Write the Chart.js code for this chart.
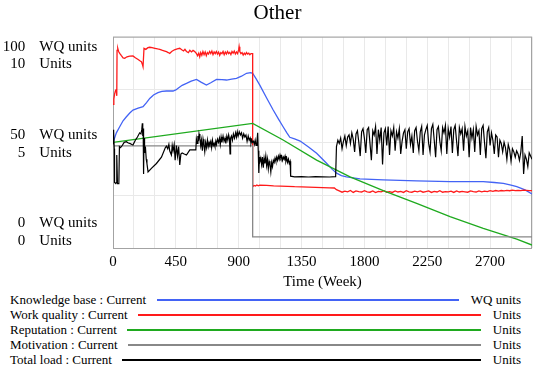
<!DOCTYPE html>
<html lang="en">
<head>
    <meta charset="UTF-8">
    <title>Other</title>
    <script src="https://cdn.jsdelivr.net/npm/chart.js@4.4.1/dist/chart.umd.min.js"></script>
    <style>
        body {
            margin: 0;
            background: #ffffff;
            font-family: "Liberation Serif", "Times New Roman", serif;
        }

        #wrap {
            position: relative;
            width: 546px;
            height: 371px;
        }

        .chart-box {
            position: absolute;
            left: 0;
            top: 0;
            width: 546px;
            height: 292px;
        }

        #legend {
            position: absolute;
            left: 0;
            top: 292px;
            width: 546px;
            font-size: 13px;
            color: #000;
        }

        .legend-row {
            display: flex;
            align-items: center;
            height: 15px;
            padding-left: 10px;
            padding-right: 25px;
            white-space: nowrap;
        }

        .legend-line {
            flex: 1;
            height: 2px;
            margin-left: 10.5px;
            margin-right: 12px;
        }
    </style>
</head>
<body>
    <div id="wrap">
        <div class="chart-box">
            <canvas id="chart"></canvas>
        </div>
        <div id="legend"></div>
    </div>

    <script>
        // time axis (weeks)
        const weekMin = 0;
        const weekMax = 3000;
        const gridStep = 150;
        const labelStep = 450;

        const seriesNames = ['Knowledge base : Current', 'Work quality : Current', 'Reputation : Current', 'Motivation : Current', 'Total load : Current'];
        const seriesUnits = ['WQ units', 'Units', 'Units', 'Units', 'Units'];
        const seriesColors = ['#4363f5', '#ff1a1a', '#1faa1f', '#888888', '#000000'];

        // [week, WQ units]
        const knowledgeBase = [[0,49.8],[24,54.5],[48,57.4],[72,60.2],[96,62.1],[120,63.9],[143,65.3],[180,66.2],[215,66.9],[240,68.8],[263,70.8],[290,72.4],[322,73.5],[350,74.1],[383,74.3],[430,74.3],[450,74.8],[466,75.6],[495,77.0],[526,77.9],[560,79.0],[598,79.8],[630,78.5],[669,77.1],[700,78.2],[741,79.8],[780,79.7],[813,79.5],[850,79.9],[884,80.3],[920,81.3],[956,82.7],[985,83.0],[1000,82.7],[1025,80.0],[1051,77.1],[1100,71.0],[1147,65.3],[1185,61.0],[1218,57.4],[1245,54.5],[1266,52.4],[1300,51.6],[1340,50.6],[1400,47.8],[1458,44.8],[1529,40.1],[1570,37.2],[1601,35.4],[1635,34.3],[1672,33.7],[1768,32.7],[1935,32.2],[2174,31.8],[2413,31.4],[2651,31.4],[2730,31.0],[2795,30.6],[2850,29.8],[2891,29.0],[2950,27.5],[3000,25.6]];

        // [week, Units]
        const workQualityEarly = [[0,6.8],[6,7.05],[12,7.3],[18,7.45],[24,7.5],[27,7.2],[29,9.35],[34,9.45],[40,9.3],[48,9.21],[60,9.1],[72,9.0],[84,8.98],[100,9.05],[120,9.08],[143,9.09],[160,9.0],[180,8.92],[195,8.85],[203,8.82],[210,8.7],[215,8.58],[222,9.45],[235,9.4],[250,9.48],[263,9.5],[280,9.48],[300,9.45],[320,9.42],[335,9.4],[350,9.36],[365,9.33],[383,9.29],[395,9.25],[406,9.21],[420,9.3],[440,9.38],[460,9.42],[478,9.45],[492,9.38],[505,9.33],[515,9.4],[526,9.3],[540,9.25],[550,9.36],[562,9.28],[573,9.35],[585,9.3],[598,9.2],[606,9.1],[614,9.22],[621,9.05],[628,9.25],[636,9.12],[644,9.3],[652,9.15],[660,9.28],[668,9.1],[676,9.25],[684,9.18],[692,9.3],[700,9.2],[708,9.32],[716,9.15],[724,9.28],[732,9.2],[740,9.3],[748,9.18],[756,9.27],[764,9.12],[772,9.25],[780,9.2],[788,9.3],[796,9.15],[804,9.28],[812,9.18],[820,9.3],[828,9.2],[836,9.26],[844,9.15],[852,9.3],[860,9.22],[868,9.32],[876,9.18],[884,9.28],[892,9.2],[900,9.4],[903,9.53],[908,9.3],[916,9.2],[924,9.25],[932,9.13],[940,9.22],[948,9.15],[956,9.25],[964,9.18],[972,9.22],[980,9.15],[988,9.2],[1000,9.2],[1000,2.9],[1010,2.96],[1020,2.93],[1030,2.98],[1040,2.94],[1050,2.97],[1100,2.96],[1150,2.94],[1200,2.93],[1250,2.92],[1300,2.9],[1350,2.89],[1400,2.88],[1450,2.87],[1500,2.86],[1550,2.85],[1585,2.84],[1600,2.76]];
        // every 20 weeks from 1620 to 3000
        const workQualityLateStart = 1620;
        const workQualityLateStep = 20;
        const workQualityLate = [
            2.70,2.64,2.69,2.66,2.72,2.63,2.70,2.67,2.65,2.71,
            2.66,2.64,2.70,2.62,2.68,2.66,2.71,2.64,2.67,2.63,
            2.70,2.65,2.68,2.63,2.71,2.66,2.64,2.69,2.66,2.70,
            2.64,2.67,2.70,2.63,2.68,2.65,2.71,2.64,2.67,2.66,
            2.69,2.63,2.70,2.65,2.68,2.66,2.64,2.70,2.67,2.65,
            2.70,2.66,2.69,2.67,2.71,2.68,2.72,2.69,2.72,2.70,
            2.73,2.71,2.74,2.72,2.73,2.72,2.74,2.73,2.72,2.72
        ];

        const reputation = [[0,5.0],[1000,5.9],[1218,5.11],[1458,4.16],[1697,3.37],[1935,2.72],[2174,2.11],[2413,1.48],[2651,0.93],[2891,0.42],[3000,0.14]];

        const motivation = [[0,4.83],[1000,4.83],[1000,0.53],[3000,0.53]];

        const totalLoadEarly = [[0,5.6],[3,4.9],[6,5.5],[9,4.7],[11,3.1],[20,3.05],[24,3.1],[27,4.4],[32,3.05],[42,3.05],[46,4.8],[54,4.75],[66,4.85],[80,5.0],[96,5.03],[110,4.97],[120,4.95],[135,4.9],[143,4.88],[160,5.1],[175,5.25],[191,5.45],[200,5.4],[206,5.6],[210,5.9],[213,5.3],[216,5.65],[219,3.5],[222,5.2],[226,4.5],[232,4.8],[238,4.2],[243,4.0],[251,3.6],[275,3.77],[311,4.0],[347,4.3],[375,4.75],[383,4.82],[392,4.7],[400,4.9],[406,4.6],[418,4.4],[424,4.85],[430,4.6],[438,4.9],[445,4.15],[454,4.85],[462,4.35],[470,4.8],[478,3.93],[486,4.45],[495,4.5],[510,4.45],[526,4.4],[550,4.64],[573,4.64],[593,4.64],[597,5.15],[602,4.95],[608,5.3],[612,5.05],[616,5.4],[622,5.2],[628,4.85],[633,5.1],[640,4.6],[645,5.15],[651,4.9],[657,4.56],[663,5.0],[670,4.75],[676,5.1],[682,4.8],[688,5.0],[693,4.9],[700,5.05],[706,4.75],[712,5.1],[718,4.85],[724,4.95],[730,4.8],[736,5.05],[741,4.9],[748,5.15],[755,5.0],[762,5.2],[768,4.9],[774,5.25],[780,5.0],[788,5.3],[795,5.05],[802,5.2],[808,4.95],[815,5.3],[822,5.1],[828,5.35],[834,5.15],[838,4.45],[842,5.2],[848,5.3],[855,5.1],[862,5.4],[870,5.2],[878,5.45],[884,5.25],[890,5.5],[896,5.3],[904,5.5],[912,5.35],[920,5.45],[928,5.2],[936,5.4],[944,5.25],[952,5.35],[960,5.05],[968,5.3],[975,5.1],[982,5.2],[988,4.95],[994,5.1],[1000,5.0],
            [1006,5.05],[1012,4.9],[1018,5.1],[1024,4.85],[1030,5.0],[1036,5.45],[1040,4.6],[1044,3.55],[1048,4.3],[1052,4.1],[1058,4.25],[1064,3.95],[1070,4.3],[1076,3.8],[1082,4.25],[1088,4.0],[1094,4.35],[1100,3.9],[1106,4.2],[1112,3.75],[1118,4.1],[1124,3.95],[1130,3.6],[1136,4.05],[1142,3.85],[1148,4.15],[1154,4.05],[1160,4.25],[1166,4.1],[1172,4.3],[1178,4.15],[1184,4.35],[1190,4.2],[1196,4.4],[1202,4.25],[1208,4.35],[1214,4.15],[1220,4.3],[1226,4.2],[1232,4.35],[1238,4.1],[1244,4.25],[1250,4.05],[1256,4.2],[1262,4.0],[1268,4.1],[1272,3.4],[1300,3.37],[1350,3.38],[1400,3.36],[1450,3.38],[1500,3.37],[1550,3.36],[1594,3.38]];
        // every 10 weeks from 1600 to 3000
        const totalLoadLateStart = 1600;
        const totalLoadLateStep = 10;
        const totalLoadLate = [
            4.80,5.10,4.95,5.20,4.70,5.05,5.30,4.85,5.25,5.35,
            4.95,5.45,5.15,4.55,5.40,5.55,5.00,4.35,5.50,5.65,
            5.20,4.50,5.60,5.70,4.95,4.15,5.55,5.35,5.75,4.45,
            5.60,5.10,5.70,3.95,5.45,5.65,4.85,5.75,4.40,5.55,
            5.30,5.70,4.60,5.50,5.20,5.65,4.45,5.05,5.45,5.60,
            4.70,5.50,5.65,4.90,5.30,4.50,5.55,5.70,5.05,4.60,
            5.50,5.75,4.40,5.35,5.60,5.80,4.95,4.55,5.65,5.85,
            5.10,4.30,5.60,5.75,5.05,4.60,5.70,5.45,5.80,4.45,
            5.65,5.25,5.75,4.50,5.60,5.80,5.05,4.35,5.70,5.40,
            5.65,4.60,5.75,5.30,5.55,4.30,5.70,5.20,5.60,4.55,
            5.75,5.35,5.55,4.40,5.65,5.80,5.00,4.25,5.50,5.70,
            4.85,5.45,5.10,4.45,5.35,5.25,4.30,5.10,4.95,4.55,
            5.00,4.75,4.20,4.90,4.65,4.10,4.70,4.55,4.30,4.60,
            4.45,4.15,4.55,5.30,3.50,4.40,4.20,3.85,4.50,4.35,
            4.20
        ];

        const toPoints = pairs => pairs.map(p => ({ x: p[0], y: p[1] }));
        const stepPoints = (start, step, values) => values.map((v, i) => ({ x: start + i * step, y: v }));

        const seriesData = [
            toPoints(knowledgeBase),
            toPoints(workQualityEarly).concat(stepPoints(workQualityLateStart, workQualityLateStep, workQualityLate)),
            toPoints(reputation),
            toPoints(motivation),
            toPoints(totalLoadEarly).concat(stepPoints(totalLoadLateStart, totalLoadLateStep, totalLoadLate))
        ];

        Chart.defaults.font.family = '"Liberation Serif", "Times New Roman", serif';
        Chart.defaults.color = '#000';

        // gray frame round the plot area
        const framePlugin = {
            id: 'frame',
            beforeDatasetsDraw(chart) {
                const { ctx, chartArea: a } = chart;
                ctx.save();
                ctx.strokeStyle = '#a3a3a3';
                ctx.lineWidth = 1;
                ctx.strokeRect(a.left + 0.5, a.top + 0.5, a.right - a.left - 1, a.bottom - a.top);
                ctx.restore();
            }
        };

        // vensim style double labels on the left
        const dualLabels = {
            id: 'dualLabels',
            afterDraw(chart) {
                const { ctx } = chart;
                const y = chart.scales.y, y2 = chart.scales.y2;
                const top = y.getPixelForValue(y.max);
                const mid = y.getPixelForValue((y.max + y.min) / 2);
                const bot = y.getPixelForValue(y.min);
                const rows = [
                    [y2.max, 'WQ units', top + 14],
                    [y.max, 'Units', top + 31.6],
                    [(y2.max + y2.min) / 2, 'WQ units', mid - 3.6],
                    [(y.max + y.min) / 2, 'Units', mid + 14.7],
                    [y2.min, 'WQ units', bot - 21],
                    [y.min, 'Units', bot - 3]
                ];
                ctx.save();
                ctx.font = '15px "Liberation Serif", "Times New Roman", serif';
                ctx.fillStyle = '#000';
                ctx.textBaseline = 'alphabetic';
                rows.forEach(r => {
                    ctx.textAlign = 'right';
                    ctx.fillText(String(r[0]), 25.3, r[2]);
                    ctx.textAlign = 'left';
                    ctx.fillText(r[1], 39.3, r[2]);
                });
                ctx.restore();
            }
        };

        const datasets = seriesNames.map((name, i) => ({
            label: name,
            data: seriesData[i],
            yAxisID: seriesUnits[i] === 'WQ units' ? 'y2' : 'y',
            borderColor: seriesColors[i],
            backgroundColor: seriesColors[i],
            borderWidth: i === 4 ? 1.2 : 1.3,
            pointRadius: 0,
            tension: 0,
            order: seriesNames.length - i
        }));

        new Chart(document.getElementById('chart'), {
            type: 'line',
            data: { datasets: datasets },
            options: {
                responsive: true,
                maintainAspectRatio: false,
                animation: false,
                layout: { padding: { left: 23, right: 14, top: 0, bottom: 0 } },
                plugins: {
                    legend: { display: false },
                    tooltip: { enabled: false },
                    title: {
                        display: true,
                        text: 'Other',
                        color: '#000',
                        font: { size: 21, weight: 'normal' },
                        padding: { top: 1, bottom: 10.5 }
                    }
                },
                scales: {
                    x: {
                        type: 'linear',
                        min: weekMin,
                        max: weekMax,
                        ticks: {
                            stepSize: gridStep,
                            autoSkip: false,
                            maxRotation: 0,
                            padding: 5,
                            color: '#000',
                            font: { size: 15 },
                            callback: v => (v % labelStep === 0 ? v : '')
                        },
                        grid: { color: '#e9e9e9', drawTicks: false },
                        border: { display: false },
                        title: {
                            display: true,
                            text: 'Time (Week)',
                            color: '#000',
                            font: { size: 15 },
                            padding: { top: 0, bottom: 1 }
                        },
                        afterFit: s => { s.height = 44; }
                    },
                    y: {
                        min: 0,
                        max: 10,
                        ticks: { display: false, stepSize: 2.5 },
                        grid: { color: '#e9e9e9', drawTicks: false },
                        border: { display: false },
                        afterFit: s => { s.width = 90; }
                    },
                    y2: {
                        display: false,
                        min: 0,
                        max: 100
                    }
                }
            },
            plugins: [framePlugin, dualLabels]
        });

        // legend rows under the chart
        const legend = document.getElementById('legend');
        seriesNames.forEach((name, i) => {
            const row = document.createElement('div');
            row.className = 'legend-row';
            row.innerHTML = `
                <span>${name}</span>
                <div class="legend-line" style="background: ${seriesColors[i]};"></div>
                <span>${seriesUnits[i]}</span>
            `;
            legend.appendChild(row);
        });
    </script>
</body>
</html>
